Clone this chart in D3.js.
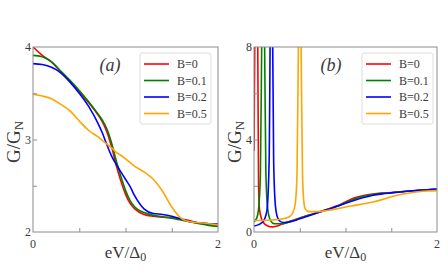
<!DOCTYPE html>
<html>
<head>
<meta charset="utf-8">
<script src="https://cdn.jsdelivr.net/npm/d3@7"></script>
<style>
  body { margin: 0; background: #fff; }
  svg text { font-family: "Liberation Serif", "DejaVu Serif", serif; }
</style>
</head>
<body>
<svg id="chart" width="448" height="280"></svg>
<script>
// series names + colours
const labels = ["B=0", "B=0.1", "B=0.2", "B=0.5"];
const colors = ["#ff0000", "#008000", "#0000ff", "#ffa500"];

// panel (a): shared bias grid, conductance per field
const eVa = [0, 0.1, 0.2, 0.3, 0.4, 0.5, 0.6, 0.7, 0.75, 0.8, 0.85, 0.9, 0.95, 1.0, 1.05, 1.1, 1.2, 1.3, 1.4, 1.5, 1.6, 1.7, 1.8, 1.9, 2.0];
const Ga_B0 = [4.0, 3.91, 3.84, 3.73, 3.63, 3.52, 3.40, 3.27, 3.19, 3.08, 2.92, 2.72, 2.55, 2.41, 2.31, 2.25, 2.19, 2.17, 2.16, 2.155, 2.14, 2.12, 2.095, 2.08, 2.07];
const Ga_B01 = [3.91, 3.895, 3.84, 3.74, 3.64, 3.53, 3.41, 3.28, 3.21, 3.11, 2.96, 2.77, 2.60, 2.45, 2.34, 2.27, 2.21, 2.18, 2.165, 2.15, 2.13, 2.11, 2.09, 2.072, 2.06];
const Ga_B02 = [3.82, 3.81, 3.78, 3.72, 3.62, 3.50, 3.36, 3.18, 3.07, 2.94, 2.82, 2.73, 2.65, 2.57, 2.49, 2.39, 2.25, 2.20, 2.19, 2.17, 2.14, 2.11, 2.10, 2.09, 2.085];
const Ga_B05 = [3.49, 3.47, 3.44, 3.38, 3.31, 3.20, 3.10, 3.03, 2.99, 2.95, 2.91, 2.86, 2.83, 2.79, 2.75, 2.71, 2.65, 2.57, 2.44, 2.27, 2.15, 2.11, 2.10, 2.09, 2.075];

// panel (b): each field has its own grid (peaks sit at different biases)
const eVb_B0 = [0, 0.01, 0.025, 0.04, 0.05, 0.06, 0.08, 0.1, 0.15, 0.2, 0.25, 0.3, 0.4, 0.5, 0.6, 0.7, 0.8, 0.9, 1.0, 1.1, 1.2, 1.3, 1.4, 1.5, 1.6, 1.7, 1.8, 1.9, 2.0];
const Gb_B0 = [3.5, 9, 14, 9, 2.0, 1.0, 0.6, 0.42, 0.26, 0.22, 0.26, 0.33, 0.47, 0.6, 0.73, 0.85, 0.98, 1.12, 1.3, 1.48, 1.58, 1.64, 1.68, 1.71, 1.74, 1.77, 1.8, 1.83, 1.85];
const eVb_B01 = [0, 0.03, 0.05, 0.07, 0.085, 0.1, 0.115, 0.13, 0.15, 0.18, 0.22, 0.3, 0.4, 0.5, 0.6, 0.7, 0.8, 0.9, 1.0, 1.1, 1.2, 1.3, 1.4, 1.5, 1.6, 1.7, 1.8, 1.9, 2.0];
const Gb_B01 = [0.45, 0.6, 1.0, 2.5, 8.5, 14, 8.5, 2.5, 1.0, 0.5, 0.36, 0.36, 0.46, 0.59, 0.72, 0.84, 0.97, 1.1, 1.27, 1.43, 1.55, 1.62, 1.67, 1.7, 1.74, 1.77, 1.8, 1.83, 1.85];
const eVb_B02 = [0, 0.05, 0.1, 0.14, 0.165, 0.19, 0.215, 0.235, 0.26, 0.29, 0.33, 0.4, 0.5, 0.6, 0.7, 0.8, 0.9, 1.0, 1.1, 1.2, 1.3, 1.4, 1.5, 1.6, 1.7, 1.8, 1.9, 2.0];
const Gb_B02 = [0.26, 0.32, 0.45, 0.9, 3.0, 14, 3.0, 1.1, 0.6, 0.45, 0.41, 0.45, 0.57, 0.7, 0.83, 0.96, 1.1, 1.24, 1.37, 1.49, 1.59, 1.65, 1.69, 1.73, 1.77, 1.8, 1.83, 1.86];
const eVb_B05 = [0, 0.1, 0.2, 0.3, 0.38, 0.42, 0.45, 0.47, 0.485, 0.5, 0.515, 0.53, 0.545, 0.56, 0.6, 0.7, 0.8, 0.9, 1.0, 1.1, 1.2, 1.3, 1.4, 1.5, 1.6, 1.7, 1.8, 1.9, 2.0];
const Gb_B05 = [0.5, 0.5, 0.52, 0.56, 0.65, 0.8, 1.2, 2.5, 8, 14, 8, 2.5, 1.3, 1.0, 0.88, 0.88, 0.93, 1.0, 1.08, 1.15, 1.22, 1.3, 1.4, 1.52, 1.62, 1.69, 1.74, 1.77, 1.79];

const seriesA = [Ga_B0, Ga_B01, Ga_B02, Ga_B05].map(g => eVa.map((v, i) => [v, g[i]]));
const seriesB = [[eVb_B0, Gb_B0], [eVb_B01, Gb_B01], [eVb_B02, Gb_B02], [eVb_B05, Gb_B05]]
  .map(([xs, gs]) => xs.map((v, i) => [v, gs[i]]));

const svg = d3.select("#chart");
const frameColor = "#8c8c8c";
const textColor = "#3a3a3a";

function drawPanel(opt) {
  const x = d3.scaleLinear().domain([0, 2]).range([opt.x0, opt.x1]);
  const y = d3.scaleLinear().domain(opt.yDomain).range([232, 47]);
  const g = svg.append("g");

  g.append("clipPath").attr("id", opt.id)
    .append("rect").attr("x", opt.x0).attr("y", 47)
    .attr("width", opt.x1 - opt.x0).attr("height", 185);

  const line = d3.line().x(d => x(d[0])).y(d => y(d[1])).curve(d3.curveMonotoneX);
  const lines = g.append("g").attr("clip-path", "url(#" + opt.id + ")");
  opt.series.forEach((s, i) => {
    lines.append("path").datum(s)
      .attr("d", line)
      .attr("fill", "none")
      .attr("stroke", colors[i])
      .attr("stroke-width", 1.6);
  });

  // frame
  g.append("rect").attr("x", opt.x0).attr("y", 47)
    .attr("width", opt.x1 - opt.x0).attr("height", 185)
    .attr("fill", "none").attr("stroke", frameColor).attr("stroke-width", 1);

  // inward ticks
  const xAx = d3.axisTop(x).tickValues([0.5, 1, 1.5]).tickSize(4).tickFormat("");
  g.append("g").attr("transform", "translate(0,232)").call(xAx)
    .call(a => a.select(".domain").remove())
    .selectAll("line").attr("stroke", frameColor);
  const yAx = d3.axisRight(y).tickValues(opt.yTicks).tickSize(4).tickFormat("");
  g.append("g").attr("transform", "translate(" + opt.x0 + ",0)").call(yAx)
    .call(a => a.select(".domain").remove())
    .selectAll("line").attr("stroke", frameColor);

  // tick labels
  [0, 2].forEach(v => {
    g.append("text").attr("x", x(v)).attr("y", 248)
      .attr("text-anchor", "middle").attr("font-size", 12).attr("fill", textColor).text(v);
  });
  opt.yLabels.forEach(v => {
    g.append("text").attr("x", opt.x0 - 2).attr("y", y(v) + 4)
      .attr("text-anchor", "end").attr("font-size", 12).attr("fill", textColor).text(v);
  });

  // axis titles
  const xt = g.append("text").attr("x", (opt.x0 + opt.x1) / 2).attr("y", 258)
    .attr("text-anchor", "middle").attr("font-size", 17).attr("fill", textColor);
  xt.append("tspan").text("eV/Δ");
  xt.append("tspan").attr("font-size", 12).attr("dy", 3).text("0");

  const yt = g.append("text")
    .attr("transform", "translate(" + (opt.x0 - 13) + ",142) rotate(-90)")
    .attr("text-anchor", "middle").attr("font-size", 19).attr("fill", textColor);
  yt.append("tspan").text("G/G");
  yt.append("tspan").attr("font-size", 13).attr("dy", 3).text("N");

  // panel letter
  g.append("text").attr("x", opt.letterX).attr("y", 71)
    .attr("text-anchor", "middle").attr("font-size", 18).attr("font-style", "italic")
    .attr("fill", textColor).text(opt.letter);

  // legend
  const lg = g.append("g").attr("transform", "translate(" + opt.legX + ",53)");
  lg.append("rect").attr("width", 71).attr("height", 71).attr("rx", 2)
    .attr("fill", "#fff").attr("stroke", "#ddd");
  labels.forEach((lab, i) => {
    const yy = 11 + i * 16.5;
    lg.append("line").attr("x1", 4).attr("x2", 29).attr("y1", yy).attr("y2", yy)
      .attr("stroke", colors[i]).attr("stroke-width", 1.6);
    lg.append("text").attr("x", 37).attr("y", yy + 4).attr("font-size", 12)
      .attr("fill", textColor).text(lab);
  });
}

drawPanel({ id: "clipA", x0: 33, x1: 218, yDomain: [2, 4], yTicks: [2.5, 3, 3.5],
  yLabels: [2, 3, 4], series: seriesA, letter: "(a)", letterX: 110, legX: 140 });
drawPanel({ id: "clipB", x0: 254, x1: 437, yDomain: [0, 8], yTicks: [2, 4, 6],
  yLabels: [0, 4, 8], series: seriesB, letter: "(b)", letterX: 331, legX: 362 });
</script>
</body>
</html>
